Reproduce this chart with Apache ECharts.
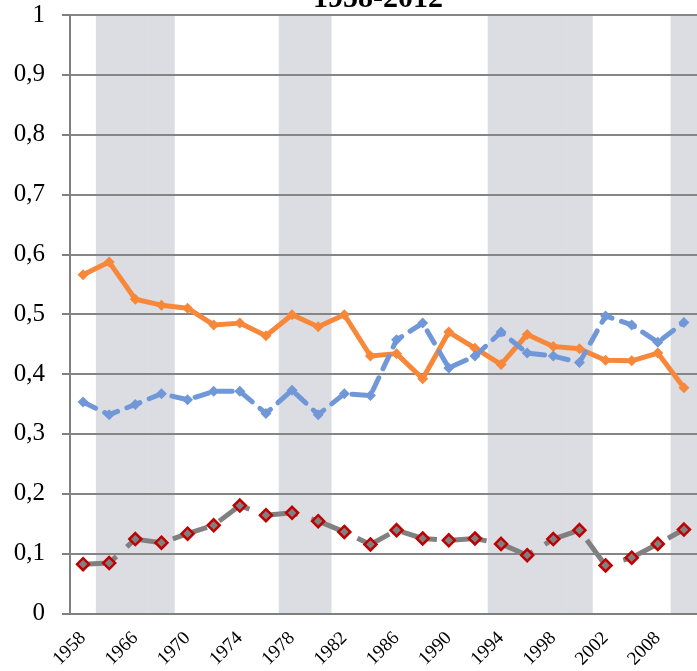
<!DOCTYPE html>
<html>
<head>
<meta charset="utf-8">
<title>1958-2012</title>
<style>
  body { margin: 0; background: #fff; }
  #chart { width: 697px; height: 671px; }
</style>
</head>
<body>
<div id="chart"></div>
<script src="https://cdn.jsdelivr.net/npm/echarts@6/dist/echarts.min.js"></script>
<script>
  const years = ['1958', '1962', '1966', '1968', '1970', '1972', '1974', '1976', '1978', '1980',
    '1982', '1984', '1986', '1988', '1990', '1992', '1994', '1996', '1998', '2000',
    '2002', '2004', '2008', '2012'];
  // shaded periods (1 = shaded)
  const shaded = [0, 1, 1, 1, 0, 0, 0, 0, 1, 1, 0, 0, 0, 0, 0, 0, 1, 1, 1, 1, 0, 0, 0, 1];
  const orangeSeries = [0.566, 0.587, 0.525, 0.515, 0.510, 0.482, 0.485, 0.464, 0.499, 0.479,
    0.499, 0.430, 0.434, 0.392, 0.470, 0.443, 0.416, 0.466, 0.446, 0.442, 0.423, 0.422, 0.435, 0.377];
  const blueSeries = [0.353, 0.332, 0.349, 0.367, 0.357, 0.371, 0.371, 0.334, 0.373, 0.332,
    0.367, 0.364, 0.457, 0.485, 0.410, 0.430, 0.470, 0.435, 0.430, 0.419, 0.497, 0.482, 0.453, 0.486];
  const graySeries = [0.082, 0.084, 0.124, 0.118, 0.133, 0.147, 0.180, 0.164, 0.168, 0.154,
    0.136, 0.115, 0.139, 0.125, 0.122, 0.125, 0.116, 0.097, 0.124, 0.139, 0.080, 0.093, 0.116, 0.140];

  const serif = 'Liberation Serif';

  let myChart = echarts.init(document.getElementById('chart'));
  let option = {
    animation: false,
    title: {
      text: '1958-2012',
      left: 373,
      textAlign: 'center',
      top: -21,
      textStyle: { fontFamily: serif, fontSize: 30, fontWeight: 'bold', color: '#000' }
    },
    grid: { left: 70, top: 15, width: 631, height: 599 },
    xAxis: {
      type: 'category',
      data: years,
      axisLine: { lineStyle: { color: '#808080', width: 2 } },
      axisTick: { interval: 0, length: 6, lineStyle: { color: '#808080', width: 2 } },
      axisLabel: {
        interval: 1,
        rotate: 45,
        margin: 22,
        fontFamily: serif,
        fontSize: 19,
        color: '#000'
      }
    },
    yAxis: {
      type: 'value',
      min: 0,
      max: 1,
      interval: 0.1,
      axisLine: { show: true, lineStyle: { color: '#808080', width: 2 } },
      axisTick: { show: true, length: 8, lineStyle: { color: '#808080', width: 2 } },
      axisLabel: {
        margin: 25,
        fontFamily: serif,
        fontSize: 25,
        color: '#000',
        formatter: v => String(+v.toFixed(1)).replace('.', ',')
      },
      splitLine: { lineStyle: { color: '#858585', width: 2 } }
    },
    series: [{
      name: 'shade',
      type: 'bar',
      z: -1,
      silent: true,
      barWidth: '102%',
      itemStyle: { color: '#dcdde2' },
      data: shaded
    }, {
      name: 'orange',
      type: 'line',
      data: orangeSeries,
      symbol: 'diamond',
      symbolSize: 11,
      lineStyle: { color: '#f7883a', width: 5 },
      itemStyle: { color: '#f7883a' }
    }, {
      name: 'blue',
      type: 'line',
      data: blueSeries,
      symbol: 'diamond',
      symbolSize: 11,
      lineStyle: { color: '#7097d8', width: 5, type: [14, 10], cap: 'round' },
      itemStyle: { color: '#7097d8' }
    }, {
      name: 'gray',
      type: 'line',
      data: graySeries,
      symbol: 'diamond',
      symbolSize: 12,
      lineStyle: { color: '#808080', width: 5, type: [36, 14] },
      itemStyle: { color: '#808080', borderColor: '#c00000', borderWidth: 2.5 }
    }]
  };
  myChart.setOption(option);
</script>
</body>
</html>
